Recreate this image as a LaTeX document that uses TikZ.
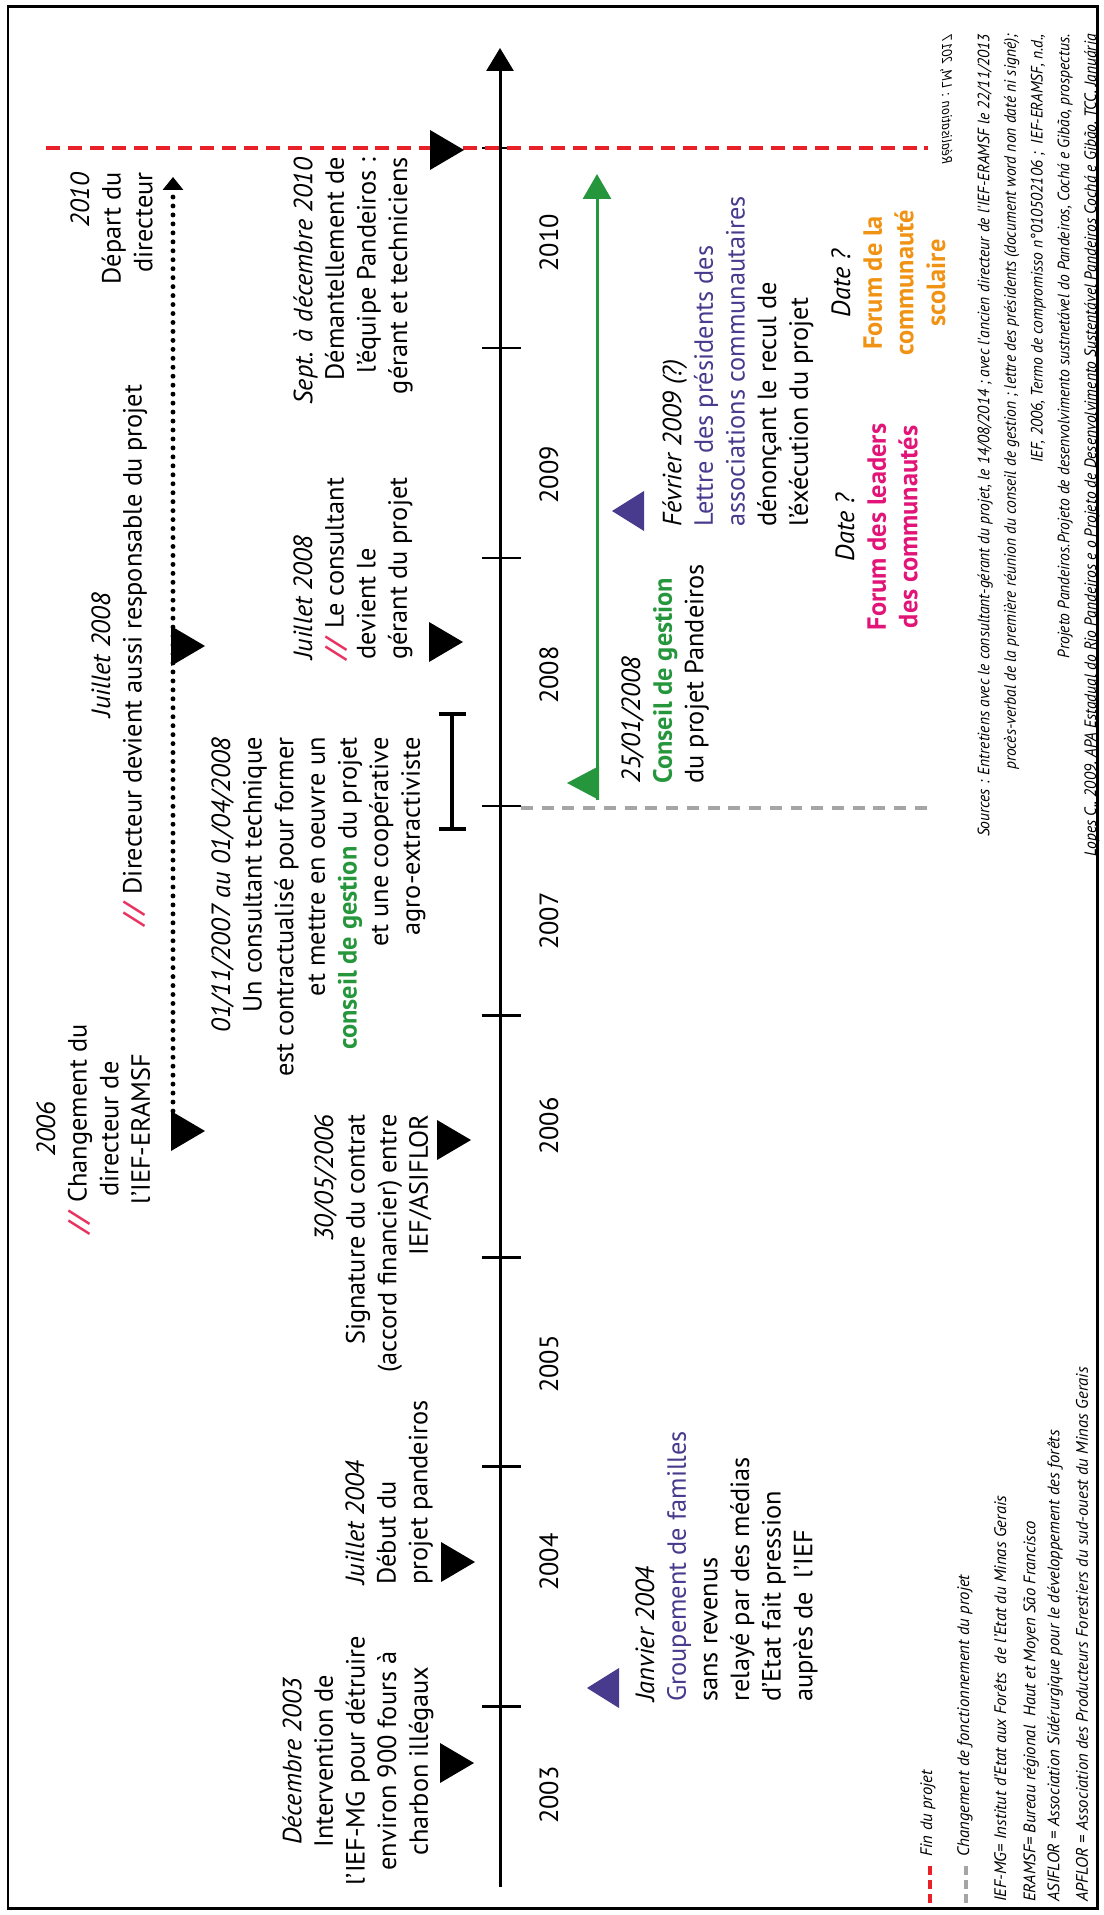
\documentclass[tikz,border=0pt]{standalone}
\usepackage{fontspec}
\setmainfont{PT Sans}
\newfontfamily\srcfam[FakeStretch=0.94]{PT Sans}
\usepackage{xcolor}
\usetikzlibrary{arrows.meta,positioning}

\definecolor{purp}{RGB}{72,58,140}
\definecolor{gestgreen}{RGB}{38,150,60}
\definecolor{forumpink}{RGB}{226,20,120}
\definecolor{forumorange}{RGB}{240,146,20}
\definecolor{slashred}{RGB}{232,50,95}
\definecolor{finred}{RGB}{232,32,40}
\definecolor{chggrey}{RGB}{165,165,165}

\newcommand{\bodyfont}{\fontsize{15}{18}\selectfont}
\newcommand{\srcfont}{\srcfam\fontsize{9.4}{15.2}\selectfont\itshape}
\newcommand{\lgfont}{\fontsize{9.5}{12}\selectfont\itshape}
\newcommand{\realfont}{\fontsize{8}{10}\selectfont\itshape}
\newcommand{\slsh}{\textcolor{slashred}{\textbf{\textit{//}}}}

\begin{document}
\begin{tikzpicture}[
    x=0.02cm, y=-0.02cm,
    evt/.style={rotate=90, inner sep=0pt, font=\bodyfont},
    yearlbl/.style={rotate=90, inner sep=0pt, font=\bodyfont},
    legendtxt/.style={rotate=90, inner sep=0pt, anchor=west, font=\lgfont},
    blacktri/.pic={\fill[black] (-17,-20) -- (17,0) -- (-17,20) -- cycle;},
    bluetri/.pic={\fill[purp] (16,-20) -- (-16,0) -- (16,20) -- cycle;},
    greentri/.pic={\fill[gestgreen] (16,-17) -- (-16,0) -- (16,17) -- cycle;},
    axisline/.style={line width=1.7pt, -{Triangle[length=0.46cm, width=0.54cm]}},
    tickline/.style={line width=1.7pt},
    findash/.style={draw=finred, line width=2.3pt, dash pattern=on 8pt off 4.5pt},
    chgdash/.style={draw=chggrey, line width=2.3pt, dash pattern=on 6.8pt off 5pt},
    greenline/.style={draw=gestgreen, line width=1.7pt, -{Triangle[length=0.5cm, width=0.56cm]}},
    dotline/.style={line width=2.8pt, line cap=round, dash pattern=on 0pt off 5.1pt, -{Triangle[length=0.26cm, width=0.4cm]}}
]
    \useasboundingbox (0,0) rectangle (1104,1915);
    \draw[line width=1.7pt] (8,7) rectangle (1097,1908);

    % Time axis
    \coordinate (axbot) at (500,1887);
    \coordinate (axtop) at (500,48);
    \draw[axisline] (axbot) -- (axtop);
    \foreach \ty in {148,348,558,806,1015,1257,1466,1706}
        \draw[tickline] (482,\ty) -- (521,\ty);
    \foreach \yr/\ty in {2003/1795,2004/1562,2005/1364,2006/1126,2007/921,2008/675,2009/475,2010/243}
        \node[yearlbl] (yr\yr) at (549,\ty) {\yr};

    % End of project / change of functioning
    \coordinate (finL) at (46,148);
    \coordinate (finR) at (928,148);
    \draw[findash] (finL) -- (finR);
    \coordinate (chgL) at (521,808);
    \coordinate (chgR) at (927,808);
    \draw[chgdash] (chgL) -- (chgR);

    % Markers above the axis
    \pic (m2010) at (447,150) {blacktri};
    \pic (m2008) at (446,642) {blacktri};
    \pic (m2006) at (454,1140) {blacktri};
    \pic (m2004) at (458,1562) {blacktri};
    \pic (m2003) at (457,1763) {blacktri};
    \pic (d2006) at (188,1131) {blacktri};
    \pic (d2008) at (188,646) {blacktri};

    % Director line
    \coordinate (dbot) at (173,1111);
    \coordinate (dtop) at (173,177);
    \draw[dotline] (dbot) -- (dtop);

    % Consultant period
    \coordinate (ibA) at (452,712);
    \coordinate (ibB) at (452,831);
    \draw[line width=2.3pt, {Bar[width=0.54cm]}-{Bar[width=0.54cm]}] (ibA) -- (ibB);

    % Markers below the axis
    \pic (b2004) at (603,1688) {bluetri};
    \pic (b2009) at (628,511) {bluetri};
    \pic (g2008) at (583,783) {greentri};
    \coordinate (gbot) at (597,800);
    \coordinate (gtop) at (597,174);
    \draw[greenline] (gbot) -- (gtop);

    % Events above the axis
    \node[evt, anchor=north east, align=right] (depart) at (70,172)
        {\textit{2010}\\Départ du\\directeur};
    \node[evt, anchor=north, align=center] (dirresp) at (91,655)
        {\textit{Juillet 2008}\\\slsh{} Directeur devient aussi responsable du projet};
    \node[evt, anchor=north, align=center] (chgdir) at (36,1129)
        {\textit{2006}\\\slsh{} Changement du\\directeur de\\l'IEF-ERAMSF};
    \node[evt, anchor=north east, align=right] (consult) at (211,737)
        {\textit{01/11/2007 au 01/04/2008}\\Un consultant technique\\est contractualisé pour former\\et mettre en oeuvre un\\\textbf{\color{gestgreen}conseil de gestion} du projet\\et une coopérative\\agro-extractiviste};
    \node[evt, anchor=north east, align=right] (demant) at (293,157)
        {\textit{Sept. à décembre 2010}\\Démantellement de\\l'équipe Pandeiros :\\gérant et techniciens};
    \node[evt, anchor=north west, align=left] (gerant) at (293,660)
        {\textit{Juillet 2008}\\\slsh{} Le consultant\\devient le\\gérant du projet};
    \node[evt, anchor=north east, align=right] (contrat) at (314,1114)
        {\textit{30/05/2006}\\Signature du contrat\\(accord financier) entre\\IEF/ASIFLOR};
    \node[evt, anchor=north west, align=left] (debut) at (345,1585)
        {\textit{Juillet 2004}\\Début du\\projet pandeiros};
    \node[evt, anchor=north, align=center] (interv) at (282,1761)
        {\textit{Décembre 2003}\\Intervention de\\l'IEF-MG pour détruire\\environ 900 fours à\\charbon illégaux};

    % Events below the axis
    \node[evt, anchor=north west, align=left] (conseil) at (621,784)
        {\textit{25/01/2008}\\\textbf{\color{gestgreen}Conseil de gestion}\\du projet Pandeiros};
    \node[evt, anchor=north west, align=left] (lettre) at (662,527)
        {\textit{Février 2009 (?)}\\{\color{purp}Lettre des présidents des}\\{\color{purp}associations communautaires}\\dénonçant le recul de\\l'éxécution du projet};
    \node[evt, anchor=north west, align=left] (famil) at (635,1702)
        {\textit{Janvier 2004}\\{\color{purp}Groupement de familles}\\sans revenus\\relayé par des médias\\d'Etat fait pression\\auprès de\ \ l'IEF};
    \node[evt, anchor=north, align=center] (leaders) at (835,527)
        {\textit{Date ?}\\\textbf{\color{forumpink}Forum des leaders}\\\textbf{\color{forumpink}des communautés}};
    \node[evt, anchor=north, align=center] (scolaire) at (831,283)
        {\textit{Date ?}\\\textbf{\color{forumorange}Forum de la}\\\textbf{\color{forumorange}communauté}\\\textbf{\color{forumorange}scolaire}};

    % Legend
    \draw[findash, line width=2pt, dash pattern=on 5pt off 3pt] (930,1903) -- (930,1864);
    \node[legendtxt] (lgfin) at (928,1857) {Fin du projet};
    \draw[chgdash, line width=2pt, dash pattern=on 5pt off 3pt] (966,1903) -- (966,1864);
    \node[legendtxt] (lgchg) at (965,1857) {Changement de fonctionnement du projet};
    \node[legendtxt] (lgief) at (1000,1902) {IEF-MG= Institut d'Etat aux Forêts\ \ de l'Etat du Minas Gerais};
    \node[legendtxt] (lgeramsf) at (1031,1902) {ERAMSF= Bureau régional\ \ Haut et Moyen São Francisco};
    \node[legendtxt] (lgasiflor) at (1055,1902) {ASIFLOR = Association Sidérurgique pour le développement des forêts};
    \node[legendtxt] (lgapflor) at (1082,1902) {APFLOR = Association des Producteurs Forestiers du sud-ouest du Minas Gerais};

    % Sources
    \node[rotate=90, inner sep=0pt, anchor=north east, align=right, font=\srcfont] (sources) at (977,34)
        {Sources : Entretiens avec le consultant-gérant du projet, le 14/08/2014 ; avec l'ancien directeur de l'IEF-ERAMSF le 22/11/2013\\
         procès-verbal de la première réunion du conseil de gestion ; lettre des présidents (document word non daté ni signé);\\
         IEF, 2006, Termo de compromisso n°010502106 ;\ \ IEF-ERAMSF, n.d.,\\
         Projeto Pandeiros.Projeto de desenvolvimento sustnetável do Pandeiros, Cochá e Gibão, prospectus.\\
         Lopes C., 2009, APA Estadual do Rio Pandeiros e o Projeto de Desenvolvimento Sustentável Pandeiros Cochá e Gibão, TCC, Januária};
    \node[rotate=90, yscale=-1, inner sep=0pt, font=\realfont] (realis) at (946,100) {Réalisation : LM, 2017};
\end{tikzpicture}
\end{document}
